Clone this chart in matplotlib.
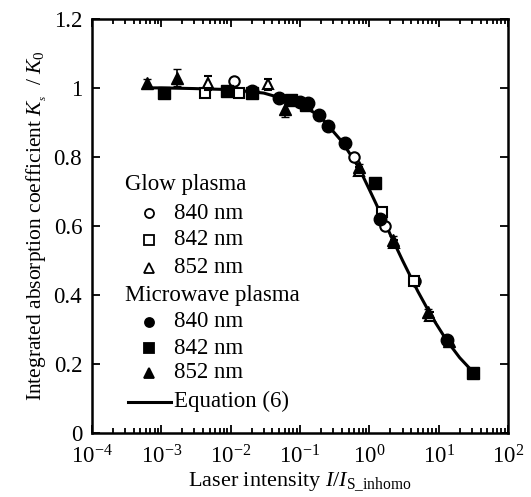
import matplotlib
matplotlib.use('Agg')
import matplotlib.pyplot as plt
from matplotlib.ticker import LogLocator, NullFormatter

plt.rcParams['font.family'] = 'Liberation Serif'
plt.rcParams['mathtext.fontset'] = 'custom'
plt.rcParams['mathtext.rm'] = 'Liberation Serif'
plt.rcParams['mathtext.it'] = 'Liberation Serif:italic'

# Equation (6) curve
eq_I = [6.2e-4, 1e-3, 3e-3, 1e-2, 0.03, 0.1, 0.2, 0.4, 0.7, 1.0, 1.5, 2.0, 3.0, 5.0, 8.0, 13.0, 20.0, 31.0]
eq_K = [1.0, 1.0, 0.998, 0.995, 0.985, 0.955, 0.915, 0.845, 0.77, 0.705, 0.63, 0.575, 0.5, 0.41, 0.335, 0.268, 0.218, 0.177]

# glow plasma
g840_I = [0.011, 0.6, 1.7, 4.6]
g840_K = [1.02, 0.80, 0.60, 0.44]
g842_I = [4.3e-3, 0.013, 1.5, 4.4]
g842_K = [0.985, 0.985, 0.64, 0.44]
g852_I = [4.7e-3, 0.035, 0.7, 2.3, 7.5]
g852_K = [1.015, 1.01, 0.76, 0.55, 0.34]
g852_err = [0.02, 0.015, 0.01, 0.01, 0.01]

# microwave plasma
m840_I = [0.02, 0.05, 0.1, 0.13, 0.19, 0.25, 0.45, 1.4, 13.0]
m840_K = [0.99, 0.97, 0.96, 0.955, 0.92, 0.89, 0.84, 0.62, 0.27]
m842_I = [1.1e-3, 9e-3, 0.02, 0.075, 0.12, 1.2, 31.0]
m842_K = [0.985, 0.99, 0.985, 0.965, 0.95, 0.725, 0.175]
m852_I = [6.2e-4, 1.7e-3, 0.06, 0.7, 2.2, 7.0, 14.0]
m852_K = [1.015, 1.03, 0.94, 0.77, 0.56, 0.35, 0.265]
m852_err = [0.01, 0.025, 0.025, 0.01, 0.01, 0.01, 0.01]

fig = plt.figure(figsize=(5.31, 4.97), dpi=100)
ax = fig.add_axes([0.173, 0.129, 0.784, 0.833])

ax.plot(eq_I, eq_K, color='k', lw=2.2, zorder=2)

ms = 7.5
ax.plot(g840_I, g840_K, 'o', mfc='white', mec='k', mew=1.5, ms=ms, zorder=3)
ax.plot(g842_I, g842_K, 's', mfc='white', mec='k', mew=1.5, ms=ms, zorder=3)
ax.errorbar(g852_I, g852_K, yerr=g852_err, fmt='^', mfc='white', mec='k', mew=1.5,
            ms=ms, ecolor='k', elinewidth=1.2, capsize=3, zorder=3)
ax.plot(m840_I, m840_K, 'o', color='k', ms=ms + 1.5, zorder=3)
ax.plot(m842_I, m842_K, 's', color='k', ms=ms + 1.5, zorder=3)
ax.errorbar(m852_I, m852_K, yerr=m852_err, fmt='^', color='k', ms=ms + 0.5,
            ecolor='k', elinewidth=1.2, capsize=3, zorder=3)

ax.set_xscale('log')
ax.set_xlim(1e-4, 1e2)
ax.set_ylim(0, 1.2)
ax.set_yticks([0, 0.2, 0.4, 0.6, 0.8, 1.0, 1.2])
ax.set_yticklabels(['0', '0.2', '0.4', '0.6', '0.8', '1', '1.2'])
ax.xaxis.set_major_locator(LogLocator(base=10, numticks=10))
ax.xaxis.set_minor_locator(LogLocator(base=10, subs=range(2, 10), numticks=10))
ax.xaxis.set_minor_formatter(NullFormatter())

ax.tick_params(which='both', direction='in', top=True, right=True, labelsize=16.5, width=1.3)
ax.tick_params(which='major', length=6)
ax.tick_params(axis='x', which='major', pad=9)
ax.tick_params(axis='y', which='major', pad=7)
ax.tick_params(which='minor', length=3.5)
for s in ax.spines.values():
    s.set_linewidth(1.8)

ax.set_xlabel(r'Laser intensity $I$/$I_{\rm S\_inhomo}$', fontsize=16, labelpad=1)
ax.set_ylabel(r'Integrated absorption coefficient $K_{_s}$  / $K_0$', fontsize=15.5, labelpad=3)

# legend, laid out by hand like the original
fs = 16.5
hx, mx, tx = 0.079, 0.137, 0.198
rows = [0.599, 0.531, 0.466, 0.399, 0.333, 0.268, 0.205, 0.145, 0.075]
tr = ax.transAxes
ax.text(hx, rows[0], 'Glow plasma', transform=tr, fontsize=fs, va='center')
ax.text(hx, rows[4], 'Microwave plasma', transform=tr, fontsize=fs, va='center')
entries = [(rows[1], 'o', 'white'), (rows[2], 's', 'white'), (rows[3], '^', 'white'),
           (rows[5], 'o', 'k'), (rows[6], 's', 'k'), (rows[7], '^', 'k')]
labels = ['840 nm', '842 nm', '852 nm', '840 nm', '842 nm', '852 nm']
for (y, m, fc), lab in zip(entries, labels):
    ax.plot([mx], [y], m, transform=tr, mfc=fc, mec='k', mew=1.3, ms=6.5, clip_on=False)
    ax.text(tx, y, lab, transform=tr, fontsize=fs, va='center')
ax.plot([0.087, 0.19], [rows[8], rows[8]], color='k', lw=2.2, transform=tr)
ax.text(tx, rows[8], 'Equation (6)', transform=tr, fontsize=fs, va='center')

fig.savefig('out.png', dpi=100)
